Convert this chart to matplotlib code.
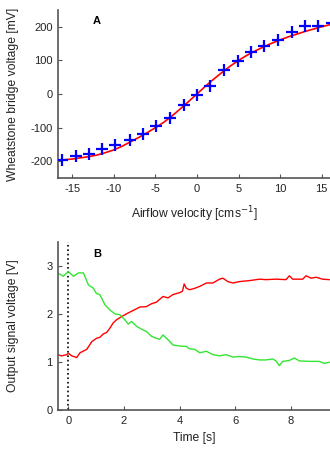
import numpy as np
import matplotlib
matplotlib.use('Agg')
import matplotlib.pyplot as plt

# ---- panel A: calibration points and fitted curve ----
vel = [-16.2, -14.6, -13.0, -11.4, -9.8, -8.1, -6.5, -4.9, -3.2, -1.6, 0.0,
       1.6, 3.2, 4.9, 6.5, 8.1, 9.8, 11.4, 13.0, 14.6, 16.2]
bridge_mv = [-195, -185, -177, -163, -150, -137, -118, -95, -72, -32, -2,
             25, 70, 98, 125, 142, 162, 185, 202, 202, 210]
fit_vel = [-16.7, -15, -13, -12, -11, -10, -9, -8, -7, -6, -5, -4, -3, -2, -1, 0,
           1, 2, 3, 4, 5, 6, 7, 8, 9, 10, 11, 12, 13, 14, 15, 16]
fit_mv = [-197, -193, -186, -181, -174, -166, -155, -142, -129, -115, -100, -84,
          -65, -44, -22, 0, 23, 44, 64, 83, 100, 115, 128, 140, 151, 161, 170,
          178, 186, 193, 200, 206]

# ---- panel B: output signals over time ----
t_red = [-0.39, -0.24, -0.06, 0.0, 0.12, 0.3, 0.42, 0.66, 0.84, 1.01, 1.13, 1.25,
         1.37, 1.49, 1.61, 1.73, 1.91, 2.09, 2.33, 2.57, 2.81, 2.99, 3.16, 3.40,
         3.58, 3.76, 4.0, 4.10, 4.16, 4.24, 4.36, 4.54, 4.72, 4.96, 5.19, 5.43,
         5.55, 5.73, 5.91, 6.15, 6.51, 6.87, 7.10, 7.46, 7.82, 7.94, 8.06, 8.42,
         8.54, 8.72, 8.90, 9.13, 9.37]
v_red = [1.15, 1.125, 1.15, 1.18, 1.125, 1.09, 1.19, 1.26, 1.42, 1.49, 1.51, 1.58,
         1.61, 1.70, 1.81, 1.875, 1.94, 2.0, 2.07, 2.14, 2.15, 2.21, 2.24, 2.36,
         2.33, 2.40, 2.44, 2.47, 2.62, 2.53, 2.5, 2.53, 2.57, 2.64, 2.64, 2.72,
         2.74, 2.67, 2.64, 2.67, 2.69, 2.72, 2.71, 2.72, 2.71, 2.79, 2.72, 2.72,
         2.79, 2.74, 2.76, 2.72, 2.71]
t_green = [-0.39, -0.18, 0.0, 0.18, 0.36, 0.54, 0.72, 0.90, 1.01, 1.13, 1.31, 1.49,
           1.67, 1.85, 2.03, 2.15, 2.27, 2.45, 2.63, 2.81, 2.99, 3.16, 3.28, 3.40,
           3.58, 3.76, 4.0, 4.24, 4.36, 4.54, 4.72, 4.96, 5.19, 5.43, 5.67, 5.91,
           6.15, 6.39, 6.63, 6.87, 7.10, 7.34, 7.46, 7.58, 7.70, 7.94, 8.12, 8.30,
           8.66, 9.01, 9.19, 9.37]
v_green = [2.85, 2.78, 2.88, 2.78, 2.85, 2.85, 2.60, 2.53, 2.42, 2.40, 2.19, 2.08,
           2.0, 1.98, 1.875, 1.785, 1.84, 1.74, 1.68, 1.63, 1.53, 1.49, 1.47, 1.56,
           1.46, 1.35, 1.33, 1.32, 1.27, 1.26, 1.19, 1.22, 1.15, 1.125, 1.15, 1.10,
           1.11, 1.10, 1.06, 1.04, 1.04, 1.06, 1.02, 0.92, 1.01, 1.03, 1.08, 1.02,
           1.01, 1.01, 0.97, 0.99]

plt.rcParams['font.family'] = ['Liberation Sans', 'DejaVu Sans']
plt.rcParams['axes.unicode_minus'] = False
fig = plt.figure(figsize=(3.3, 4.5), dpi=100)
axA = fig.add_axes([0.176, 0.604, 0.824, 0.374])
axB = fig.add_axes([0.176, 0.089, 0.824, 0.374])

for ax in (axA, axB):
    for s in ('top', 'right'):
        ax.spines[s].set_visible(False)
    for s in ('left', 'bottom'):
        ax.spines[s].set_color('#555555')
        ax.spines[s].set_linewidth(1.2)
    ax.tick_params(direction='in', length=3, width=0.8, labelsize=8,
                   color='#555555', labelcolor='#222222', pad=4)

axA.plot(fit_vel, fit_mv, color='red', lw=1.2, zorder=2)
axA.plot(vel, bridge_mv, ls='None', marker='+', ms=8, mew=1.6, color='blue', zorder=3)
axA.set_xlim(-16.7, 16)
axA.set_ylim(-250, 250)
axA.set_xticks([-15, -10, -5, 0, 5, 10, 15])
axA.set_yticks([-200, -100, 0, 100, 200])
axA.set_xlabel(r'Airflow velocity [cms$^{-1}$]', fontsize=8.7, color='#222222', labelpad=8)
axA.set_ylabel('Wheatstone bridge voltage [mV]', fontsize=8.7, color='#222222')
axA.text(-12.1, 217, 'A', fontsize=8, fontweight='bold', ha='center', va='center')

axB.axvline(0, color='black', ls=':', lw=1.2)
axB.plot(t_red, v_red, color='red', lw=1.0)
axB.plot(t_green, v_green, color='#33e633', lw=1.0)
axB.set_xlim(-0.37, 9.4)
axB.set_ylim(0, 3.5)
axB.set_xticks([0, 2, 4, 6, 8])
axB.set_yticks([0, 1, 2, 3])
axB.set_xlabel('Time [s]', fontsize=8.7, color='#222222', labelpad=5)
axB.set_ylabel('Output signal voltage [V]', fontsize=8.7, color='#222222')
axB.text(1.02, 3.25, 'B', fontsize=8, fontweight='bold', ha='center', va='center')

for ax in (axA, axB):
    ax.yaxis.set_label_coords(-0.145, 0.5)

fig.savefig('out.png', dpi=100)
